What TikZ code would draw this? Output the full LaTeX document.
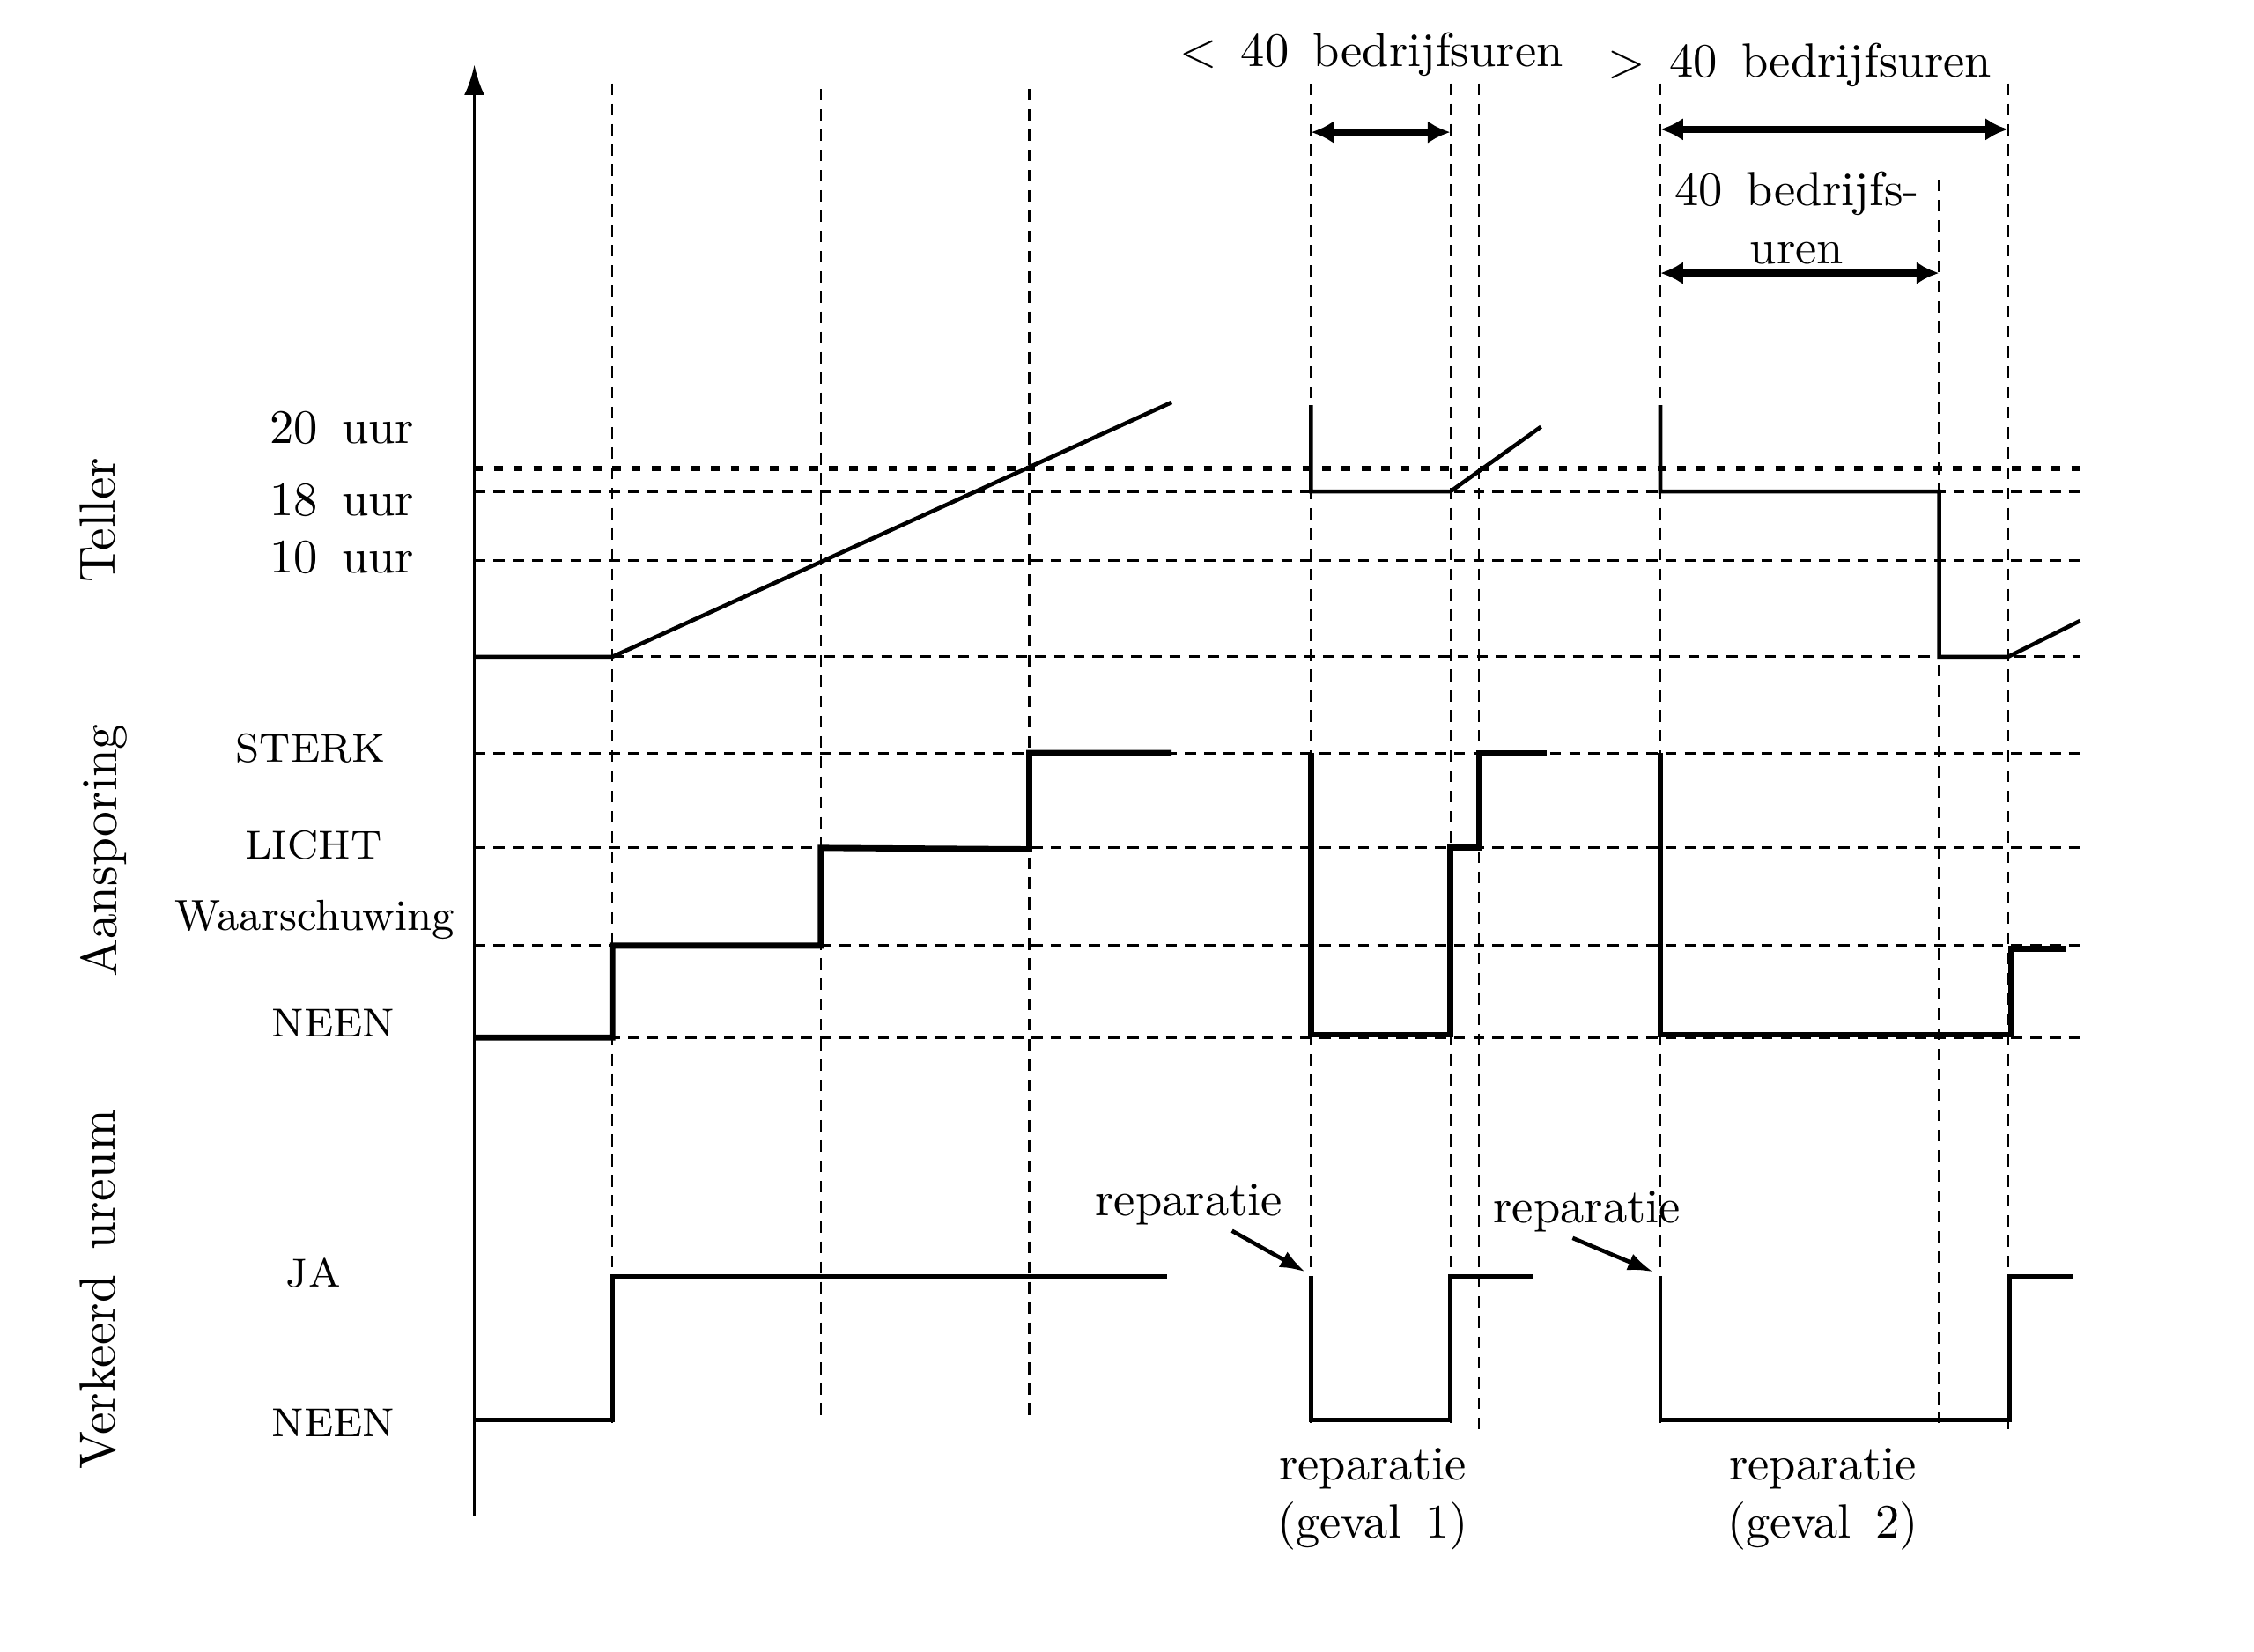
\documentclass[tikz,border=0pt]{standalone}
\usepackage{tikz}
\usetikzlibrary{arrows.meta}
\tikzset{
  timegrid/.style={dash pattern=on 2.3pt off 1.7pt, line width=0.4pt},
  hlev/.style={dash pattern=on 2.2pt off 1.6pt, line width=0.5pt},
  thresh/.style={dash pattern=on 1.7pt off 2.2pt, line width=0.9pt},
  sig/.style={line width=0.8pt, line join=miter},
  sigbold/.style={line width=1.2pt, line join=miter},
  durarrow/.style={{Latex[length=4.5pt,width=4.5pt]}-{Latex[length=4.5pt,width=4.5pt]}, line width=1.3pt},
  pointer/.style={-{Latex[length=5pt,width=3.5pt]}, line width=0.8pt},
  lbl/.style={font=\fontsize{9.5}{11.5}\selectfont, inner sep=1pt},
  side/.style={font=\fontsize{10}{12}\selectfont, inner sep=1pt, rotate=90},
  caps/.style={font=\fontsize{8}{10}\selectfont, inner sep=1pt},
}
\newcommand{\timeline}[3]{\draw[timegrid] (#1,#2) -- (#1,#3);}
\newcommand{\hlevel}[1]{\draw[hlev] (330,#1) -- (1450,#1);}

\begin{document}
\begin{tikzpicture}[x=0.01cm, y=-0.01cm]
  \useasboundingbox (0,0) rectangle (1568,1149);
  % time markers
  \timeline{426}{58}{990}
  \timeline{571}{62}{990}
  \timeline{716}{62}{990}
  \timeline{912}{58}{990}
  \timeline{1009}{58}{990}
  \timeline{1029}{58}{995}
  \timeline{1155}{58}{990}
  \timeline{1349}{125}{990}
  \timeline{1397}{58}{1000}
  % levels
  \draw[thresh] (330,326) -- (1447,326);
  \draw[hlev] (330,342) -- (1447,342);
  \draw[hlev] (330,390) -- (1447,390);
  \draw[hlev] (426,457) -- (1447,457);
  \hlevel{524}
  \hlevel{590}
  \hlevel{658}
  \hlevel{722}
  % axis
  \draw[-{Latex[length=6pt,width=4pt]}, line width=0.6pt] (330,1055) -- (330,45);

  \node[side] (teller) at (68,362) {Teller};
  \node[side] (aansp) at (72,592) {Aansporing};
  \node[side] (ureum) at (68,897) {Verkeerd\,\ ureum};

  \node[lbl] (u20) at (238,298) {20\,\ uur};
  \node[lbl] (u18) at (238,348) {18\,\ uur};
  \node[lbl] (u10) at (238,388) {10\,\ uur};
  \node[caps] (sterk) at (216,521) {STERK};
  \node[caps] (licht) at (218,588) {LICHT};
  \node[lbl, font=\fontsize{8.6}{10}\selectfont] (waarsch) at (219,640) {Waarschuwing};
  \node[caps] (neen1) at (232,712) {NEEN};
  \node[caps] (ja) at (218,886) {JA};
  \node[caps] (neen2) at (232,990) {NEEN};

  % teller
  \draw[sig] (330,457) -- (426,457) -- (815,280);
  \draw[sig] (912,282) -- (912,342) -- (1009,342) -- (1072,297);
  \draw[sig] (1155,282) -- (1155,342) -- (1349,342) -- (1349,457) -- (1397,457) -- (1447,432);
  % aansporing
  \draw[sigbold] (330,722) -- (426,722) -- (426,658) -- (571,658) -- (571,590) -- (716,591) -- (716,524) -- (815,524);
  \draw[sigbold] (912,524) -- (912,720) -- (1009,720) -- (1009,590) -- (1029,590) -- (1029,524) -- (1076,524);
  \draw[sigbold] (1155,524) -- (1155,720) -- (1399,720) -- (1399,660) -- (1437,660);
  % verkeerd ureum
  \draw[sig] (330,988) -- (426,988) -- (426,888) -- (812,888);
  \draw[sig] (912,888) -- (912,988) -- (1009,988) -- (1009,888) -- (1066,888);
  \draw[sig] (1155,888) -- (1155,988) -- (1398,988) -- (1398,888) -- (1442,888);

  % durations
  \node[lbl] (kort) at (954,38) {<\ \,40\ \,bedrijfsuren};
  \node[lbl] (lang) at (1252,45) {>\,\ 40\ \,bedrijfsuren};
  \node[lbl, align=center] (veertig) at (1250,152) {40\ \,bedrijfs-\\uren};
  \coordinate (k1) at (912,92);
  \coordinate (k2) at (1009,92);
  \coordinate (l1) at (1155,90);
  \coordinate (l2) at (1397,90);
  \coordinate (v1) at (1155,190);
  \coordinate (v2) at (1349,190);
  \draw[durarrow] (k1) -- (k2);
  \draw[durarrow] (l1) -- (l2);
  \draw[durarrow] (v1) -- (v2);

  % repairs
  \node[lbl] (rep1) at (827,838) {reparatie};
  \node[lbl] (rep2) at (1104,843) {reparatie};
  \coordinate (rep1tip) at (908,885);
  \coordinate (rep2tip) at (1150,885);
  \draw[pointer] ([xshift=0.3cm]rep1.south) -- (rep1tip);
  \draw[pointer] ([xshift=-0.1cm]rep2.south) -- (rep2tip);
  \node[lbl, align=center] (geval1) at (955,1043) {reparatie\\(geval\,\ 1)};
  \node[lbl, align=center] (geval2) at (1268,1043) {reparatie\\(geval\,\ 2)};
\end{tikzpicture}
\end{document}
